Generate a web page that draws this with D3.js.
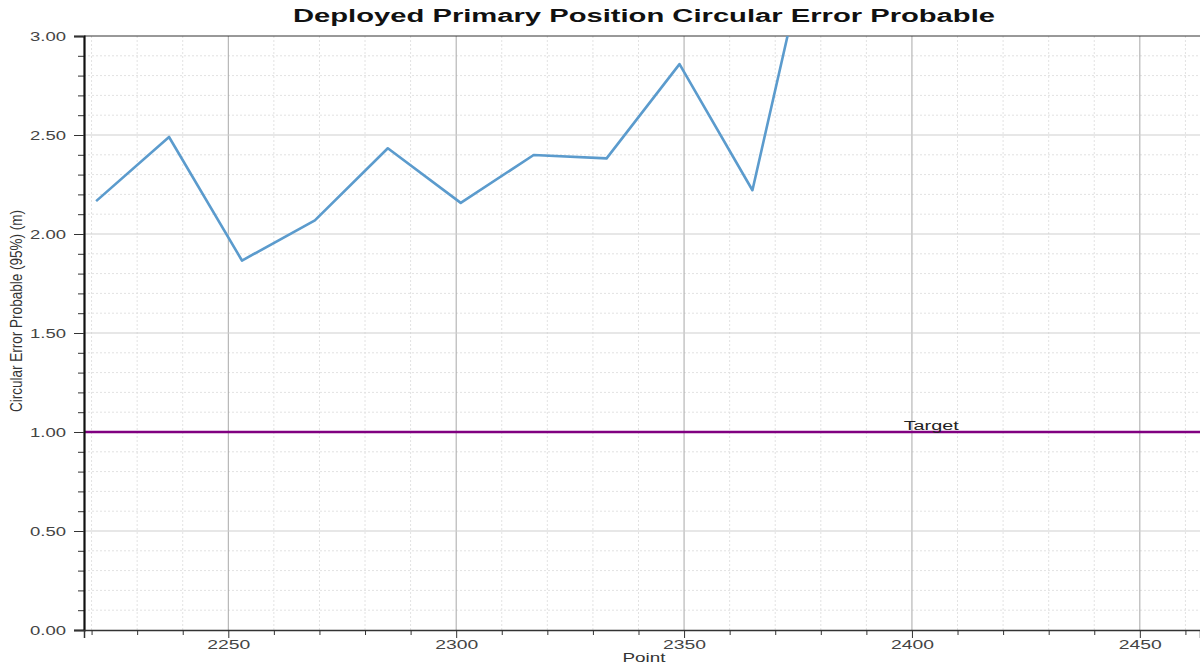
<!DOCTYPE html>
<html>
<head>
<meta charset="utf-8">
<script src="https://cdn.jsdelivr.net/npm/d3@7"></script>
<style>
  body { margin: 0; background: #fff; }
  text { font-family: "Liberation Sans", Arial, sans-serif; }
</style>
</head>
<body>
<div id="chart"></div>
<script>
// chart data
const points = [2221, 2237, 2253, 2269, 2285, 2301, 2317, 2333, 2349, 2365, 2381];
const cep = [2.166, 2.49, 1.866, 2.069, 2.433, 2.157, 2.399, 2.382, 2.858, 2.221, 3.84];
const target = 1.0;
const xTicks = [2250, 2300, 2350, 2400, 2450];
const yTicks = [0, 0.5, 1.0, 1.5, 2.0, 2.5, 3.0];

const width = 1200;
const height = 666;
const margin = { top: 36, right: 0, bottom: 36, left: 84 };

// the reference text is drawn wide, so stretch it to fit
const stretch = (sel, len) => sel.attr("textLength", len).attr("lengthAdjust", "spacingAndGlyphs");

const svg = d3.select("#chart")
    .append("svg")
    .attr("width", width)
    .attr("height", height);

const x = d3.scaleLinear()
    .domain([2218.34, 2463.2])
    .range([margin.left, width - margin.right]);

const y = d3.scaleLinear()
    .domain([0, 3])
    .range([height - margin.bottom, margin.top]);

// minor grid (dashed)
const xMinor = d3.range(2220, 2470, 10).filter(v => v % 50 !== 0);
const yMinor = d3.range(1, 30).map(v => v / 10).filter(v => Math.round(v * 10) % 5 !== 0);

svg.append("g")
    .selectAll("line")
    .data(xMinor)
    .join("line")
    .attr("x1", d => x(d)).attr("x2", d => x(d))
    .attr("y1", y(0)).attr("y2", y(3))
    .attr("stroke", "#e2e2e2")
    .attr("stroke-dasharray", "2,2");

svg.append("g")
    .selectAll("line")
    .data(yMinor)
    .join("line")
    .attr("x1", margin.left).attr("x2", width)
    .attr("y1", d => y(d)).attr("y2", d => y(d))
    .attr("stroke", "#e2e2e2")
    .attr("stroke-dasharray", "2,2");

// major grid
svg.append("g")
    .selectAll("line")
    .data(xTicks)
    .join("line")
    .attr("x1", d => x(d)).attr("x2", d => x(d))
    .attr("y1", y(0)).attr("y2", y(3))
    .attr("stroke", "#a8a8a8");

svg.append("g")
    .selectAll("line")
    .data(yTicks.slice(1, -1))
    .join("line")
    .attr("x1", margin.left).attr("x2", width)
    .attr("y1", d => y(d)).attr("y2", d => y(d))
    .attr("stroke", "#cfcfcf");

// top border
svg.append("line")
    .attr("x1", margin.left).attr("x2", width)
    .attr("y1", y(3)).attr("y2", y(3))
    .attr("stroke", "#333");

// clip for the data
svg.append("clipPath")
    .attr("id", "plot-clip")
    .append("rect")
    .attr("x", margin.left)
    .attr("y", margin.top)
    .attr("width", width - margin.left - margin.right)
    .attr("height", height - margin.top - margin.bottom);

// target line
svg.append("line")
    .attr("x1", margin.left).attr("x2", width)
    .attr("y1", y(target)).attr("y2", y(target))
    .attr("stroke", "#800080")
    .attr("stroke-width", 2.5);

svg.append("text")
    .attr("x", x(2398.2))
    .attr("y", y(target) - 2)
    .style("font-size", "12.5px")
    .attr("fill", "#222")
    .text("Target")
    .call(stretch, 55);

// CEP line
const line = d3.line()
    .x((d, i) => x(points[i]))
    .y(d => y(d));

svg.append("path")
    .datum(cep)
    .attr("clip-path", "url(#plot-clip)")
    .attr("fill", "none")
    .attr("stroke", "#5b9bcd")
    .attr("stroke-width", 2.6)
    .attr("stroke-linejoin", "round")
    .attr("d", line);

// y axis
const yAxis = svg.append("g")
    .attr("transform", `translate(${margin.left},0)`);

yAxis.append("g")
    .call(d3.axisLeft(y).tickValues(yMinor).tickSize(6).tickFormat(""))
    .call(g => g.select(".domain").remove())
    .selectAll("line").attr("stroke", "#333");

yAxis.append("g")
    .call(d3.axisLeft(y).tickValues(yTicks).tickSize(10).tickFormat(d3.format(".2f")))
    .call(g => g.select(".domain").attr("stroke", "#111").attr("stroke-width", 2.2))
    .call(g => g.selectAll("line").attr("stroke", "#333"))
    .call(g => g.selectAll("text")
        .style("font-size", "12.5px")
        .attr("fill", "#444")
        .attr("x", -18)
        .call(stretch, 36));

// x axis
const xAxis = svg.append("g")
    .attr("transform", `translate(0,${y(0)})`);

xAxis.append("g")
    .call(d3.axisBottom(x).tickValues(xMinor).tickSize(5).tickFormat(""))
    .call(g => g.select(".domain").remove())
    .selectAll("line").attr("stroke", "#333");

xAxis.append("g")
    .call(d3.axisBottom(x).tickValues(xTicks).tickSize(8).tickFormat(d3.format("d")))
    .call(g => g.select(".domain").attr("stroke", "#333").attr("stroke-width", 1.5))
    .call(g => g.selectAll("line").attr("stroke", "#333"))
    .call(g => g.selectAll("text")
        .style("font-size", "12.5px")
        .attr("fill", "#444")
        .attr("y", 10)
        .call(stretch, 43));

// labels
svg.append("text")
    .attr("x", 644)
    .attr("y", 22)
    .attr("text-anchor", "middle")
    .style("font-size", "18px")
    .style("font-weight", "bold")
    .attr("fill", "#111")
    .text("Deployed Primary Position Circular Error Probable")
    .call(stretch, 702);

svg.append("text")
    .attr("x", 644)
    .attr("y", 662)
    .attr("text-anchor", "middle")
    .style("font-size", "12.5px")
    .attr("fill", "#333")
    .text("Point")
    .call(stretch, 43);

svg.append("text")
    .attr("transform", `translate(22,311) scale(1.3,1) rotate(-90)`)
    .attr("text-anchor", "middle")
    .style("font-family", "'Liberation Sans Narrow', 'Arial Narrow', sans-serif")
    .style("font-size", "13px")
    .attr("fill", "#333")
    .text("Circular Error Probable (95%) (m)")
    .call(stretch, 202);
</script>
</body>
</html>
